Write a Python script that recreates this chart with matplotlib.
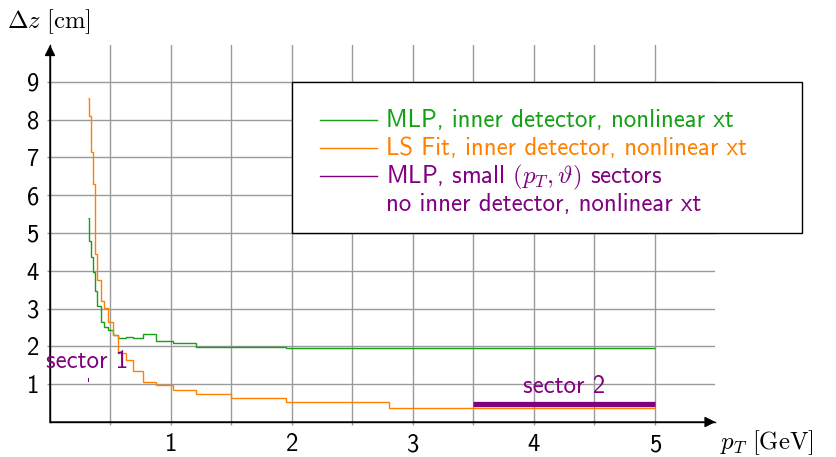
import matplotlib
matplotlib.use("Agg")
import matplotlib.pyplot as plt
from matplotlib.patches import Rectangle
from matplotlib.lines import Line2D

plt.rcParams['font.family'] = ['cmss10', 'DejaVu Sans']
plt.rcParams['mathtext.fontset'] = 'cm'
plt.rcParams['axes.unicode_minus'] = False

# ---- data ----
pt_edges = [0.31, 0.325, 0.336, 0.353, 0.372, 0.39, 0.42, 0.449, 0.482, 0.518,
            0.565, 0.628, 0.683, 0.771, 0.876, 1.02, 1.21, 1.50, 1.95, 2.80, 5.0]
mlp_inner = [5.40, 4.80, 4.36, 3.96, 3.47, 3.08, 2.65, 2.52, 2.43, 2.30,
             2.21, 2.25, 2.21, 2.34, 2.15, 2.10, 1.99, 1.99, 1.97, 1.97]
ls_fit = [8.57, 8.10, 7.13, 6.30, 4.44, 3.75, 3.21, 3.02, 2.65, 2.30,
          1.82, 1.64, 1.36, 1.07, 0.98, 0.85, 0.73, 0.635, 0.52, 0.37]
sector1_x = [0.310, 0.321]
sector1_y = [1.11, 1.11]
sector2_x = [3.5, 5.0]
sector2_y = [0.48, 0.48]
xtick_vals = [1, 2, 3, 4, 5]
ytick_vals = [1, 2, 3, 4, 5, 6, 7, 8, 9]

GREEN = '#14a014'
ORANGE = '#ff8000'
PURPLE = '#800080'
GRID = '#9a9a9a'
FS = 17.8

W, H = 837, 457
fig = plt.figure(figsize=(W / 100, H / 100), dpi=100)
ax = fig.add_axes([50 / W, 1 - 422 / H, (715.5 - 50) / W, (422 - 45) / H])
ax.set_xlim(0, 5.5)
ax.set_ylim(0, (422 - 45) / 37.81)

for s in ['top', 'right']:
    ax.spines[s].set_visible(False)
for s in ['left', 'bottom']:
    ax.spines[s].set_linewidth(1.0)
    ax.spines[s].set_color('black')

ax.set_xticks(xtick_vals)
ax.set_xticks([0.5, 1.5, 2.5, 3.5, 4.5], minor=True)
ax.set_yticks(ytick_vals)
ax.set_xticklabels([str(v) for v in xtick_vals], fontsize=FS)
ax.set_yticklabels([str(v) for v in ytick_vals], fontsize=FS)
ax.tick_params(which='both', direction='out', length=2, width=1.0, color=GRID, pad=6)
ax.grid(True, which='both', color=GRID, lw=1.0)
ax.set_axisbelow(True)

# axis arrows
ax.annotate('', xy=(1, 0), xytext=(0, 0), xycoords='axes fraction',
            arrowprops=dict(arrowstyle='-|>', color='black', lw=1.0,
                            mutation_scale=16, shrinkA=0, shrinkB=0))
ax.annotate('', xy=(0, 1), xytext=(0, 0), xycoords='axes fraction',
            arrowprops=dict(arrowstyle='-|>', color='black', lw=1.0,
                            mutation_scale=16, shrinkA=0, shrinkB=0))

# data
ax.stairs(mlp_inner, pt_edges, baseline=None, color=GREEN, lw=1.0, zorder=3)
ax.stairs(ls_fit, pt_edges, baseline=None, color=ORANGE, lw=1.0, zorder=3)
ax.plot(sector2_x, sector2_y, color=PURPLE, lw=3.8, solid_capstyle='butt', zorder=4)
ax.plot(sector1_x, sector1_y, color=PURPLE, lw=3.0, solid_capstyle='butt', zorder=4)

ax.text(0.306, 1.6, 'sector 1', color=PURPLE, fontsize=FS, ha='center', va='center', zorder=5)
ax.text(4.245, 0.95, 'sector 2', color=PURPLE, fontsize=FS, ha='center', va='center', zorder=5)

# axis labels
fig.text(7 / W, 1 - 28.3 / H, r'$\Delta z\ [\mathrm{cm}]$', fontsize=FS, ha='left', va='baseline')
fig.text(720 / W, 1 - 449 / H, r'$p_T\ [\mathrm{GeV}]$', fontsize=FS, ha='left', va='baseline')

# legend box (manual)
fig.add_artist(Rectangle((291.7 / W, 1 - 232.7 / H), (801.7 - 291.7) / W, (232.7 - 81.7) / H,
                         transform=fig.transFigure, facecolor='white', edgecolor='black',
                         lw=1.0, zorder=10))
rows = [(127.3, 120, GREEN, 'MLP, inner detector, nonlinear xt'),
        (155.5, 148, ORANGE, 'LS Fit, inner detector, nonlinear xt'),
        (183.3, 176, PURPLE, r'MLP, small $(p_T,\vartheta)$ sectors'),
        (211.0, None, PURPLE, 'no inner detector, nonlinear xt')]
for base, liney, col, lab in rows:
    if liney is not None:
        fig.add_artist(Line2D([320 / W, 377 / W], [1 - liney / H, 1 - liney / H],
                              transform=fig.transFigure, color=col, lw=1.0, zorder=11))
    fig.text(386 / W, 1 - base / H, lab, color=col, fontsize=FS, ha='left',
             va='baseline', zorder=11)

fig.savefig('out.png', dpi=100)
